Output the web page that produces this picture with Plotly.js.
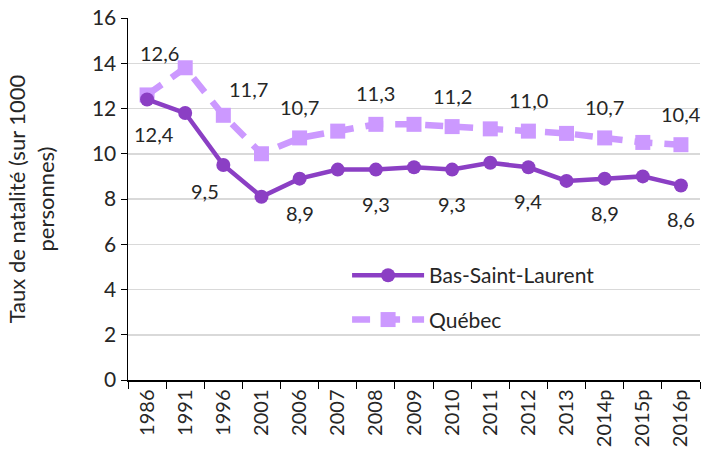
<!DOCTYPE html>
<html>
<head>
<meta charset="utf-8">
<script src="https://cdn.plot.ly/plotly-3.0.1.min.js"></script>
<style>html,body{margin:0;padding:0;background:#fff;}#chart{width:702px;height:457px;}</style>
</head>
<body>
<div id="chart"></div>
<script>
const years = ["1986","1991","1996","2001","2006","2007","2008","2009","2010","2011","2012","2013","2014p","2015p","2016p"];
const bslValues = [12.4, 11.8, 9.5, 8.1, 8.9, 9.3, 9.3, 9.4, 9.3, 9.6, 9.4, 8.8, 8.9, 9.0, 8.6];
const qcValues  = [12.6, 13.8, 11.7, 10.0, 10.7, 11.0, 11.3, 11.3, 11.2, 11.1, 11.0, 10.9, 10.7, 10.5, 10.4];
const bslLabels = ["12,4","","9,5","","8,9","","9,3","","9,3","","9,4","","8,9","","8,6"];
const qcLabels  = ["12,6","","11,7","","10,7","","11,3","","11,2","","11,0","","10,7","","10,4"];
const yTicks = [0,2,4,6,8,10,12,14,16];

const FONT = "Lato, 'Open Sans', sans-serif";
const TXT = "#262626";
const bslColor = "#8b3fc4";
const qcColor = "#cc99ff";

const traces = [
  {
    x: years, y: qcValues, type: "scatter", mode: "lines+markers",
    name: "Québec", legendgroup: "b", legendrank: 2,
    line: {color: qcColor, width: 6.5, dash: "18px,12px"},
    marker: {symbol: "square", size: 15, color: qcColor},
    cliponaxis: false
  },
  {
    x: years, y: bslValues, type: "scatter", mode: "lines+markers",
    name: "Bas-Saint-Laurent", legendgroup: "a", legendrank: 1,
    line: {color: bslColor, width: 4.5},
    marker: {symbol: "circle", size: 14, color: bslColor},
    cliponaxis: false
  }
];

const annotations = [];
const LBL = {family: FONT, size: 20, color: TXT};
qcLabels.forEach((t, i) => {
  if (!t) return;
  let xs = 0, ys = 31;
  if (i === 0) { xs = 12; ys = 42; }
  if (i === 2) { xs = 25; ys = 26; }
  annotations.push({x: i, y: qcValues[i], xref: "x", yref: "y", text: t,
    showarrow: false, xshift: xs, yshift: ys, font: LBL});
});
bslLabels.forEach((t, i) => {
  if (!t) return;
  let xs = 0, ys = -34;
  if (i === 0) { xs = 7; ys = -35; }
  if (i === 2) { xs = -18; ys = -26; }
  annotations.push({x: i, y: bslValues[i], xref: "x", yref: "y", text: t,
    showarrow: false, xshift: xs, yshift: ys, font: LBL});
});

const layout = {
  width: 702, height: 457,
  margin: {l: 128, r: 2, t: 18, b: 77},
  paper_bgcolor: "#fff", plot_bgcolor: "#fff",
  font: {family: FONT, size: 20, color: TXT},
  showlegend: true,
  legend: {x: 0.383, y: 0.345, xanchor: "left", yanchor: "top",
    bgcolor: "rgba(0,0,0,0)", font: {family: FONT, size: 21, color: TXT},
    traceorder: "grouped", tracegroupgap: 14, itemwidth: 72},
  xaxis: {
    type: "category", range: [-0.5, years.length - 0.5], autorange: false,
    tickangle: -90, tickson: "boundaries",
    ticks: "outside", ticklen: 7, tickcolor: "#000", tickwidth: 1,
    showline: true, linecolor: "#000", linewidth: 1.5,
    showgrid: false, zeroline: false,
    tickfont: {family: FONT, size: 20, color: TXT}
  },
  yaxis: {
    range: [0, 16], tickvals: yTicks, ticktext: yTicks.map(String),
    ticks: "outside", ticklen: 6, tickcolor: "#000",
    showline: true, linecolor: "#000", linewidth: 1.5,
    showgrid: true, gridcolor: "#d9d9d9", gridwidth: 1.5, zeroline: false,
    tickfont: {family: FONT, size: 21, color: TXT},
    title: {text: "Taux de natalité (sur 1000<br>personnes)", standoff: 31,
      font: {family: FONT, size: 22, color: TXT}}
  },
  annotations: annotations
};

Plotly.newPlot("chart", traces, layout, {displayModeBar: false, staticPlot: true});
</script>
</body>
</html>
